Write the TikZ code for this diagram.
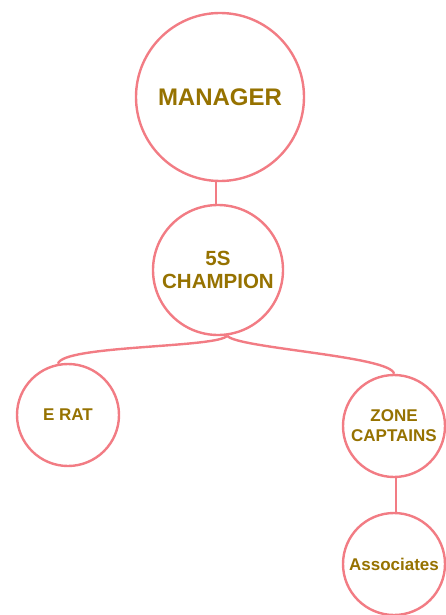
\documentclass[tikz,border=0pt]{standalone}
\usepackage{fontspec}
\setmainfont{Liberation Sans}
\definecolor{ring}{RGB}{242,124,132}
\definecolor{txt}{RGB}{150,114,0}
\begin{document}
\begin{tikzpicture}[x=1pt,y=-1pt,
  bubble/.style={circle,draw=ring,line width=2.4pt,fill=white,inner sep=0pt,align=center,text=txt,font=\bfseries},
  link/.style={draw=ring,line width=2.4pt}]
\useasboundingbox (0,0) rectangle (446,615);
\node[bubble,minimum size=168pt,font=\bfseries\fontsize{24}{28}\selectfont] (mgr) at (220,97) {MANAGER};
\node[bubble,minimum size=130pt,font=\bfseries\fontsize{20.5}{23}\selectfont] (champ) at (218,270) {5S\\CHAMPION};
\node[bubble,minimum size=102pt,font=\bfseries\fontsize{17}{20}\selectfont] (erat) at (68,415) {E RAT};
\node[bubble,minimum size=102pt,font=\bfseries\fontsize{17}{20}\selectfont] (zone) at (394,426) {ZONE\\CAPTAINS};
\node[bubble,minimum size=102pt,font=\bfseries\fontsize{17}{20}\selectfont] (assoc) at (394,564) {Associates};
\draw[link] (mgr.south -| 216,0) -- (champ.north -| 216,0);
\draw[link] (champ.-82) .. controls (220,348) and (62,345) .. (erat.101);
\draw[link] (champ.-82) .. controls (234,348) and (392,356) .. (zone.north);
\draw[link] (zone.south -| 396,0) -- (assoc.north -| 396,0);
\end{tikzpicture}
\end{document}
